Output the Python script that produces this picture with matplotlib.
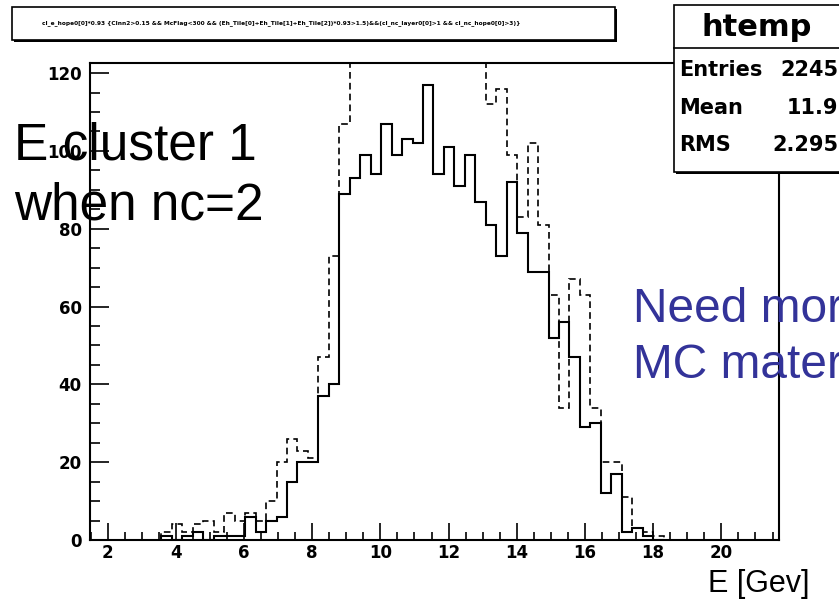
import matplotlib
matplotlib.use("Agg")

import numpy as np
from matplotlib import pyplot as plt
from matplotlib.patches import Rectangle
from matplotlib.ticker import MultipleLocator

W, H = 839, 600

# bin layout of htemp (E [GeV])
first_edge = 3.579
bin_width = 0.3068

# solid histogram (htemp, 2245 entries)
solid_counts = [1, 0, 1, 2, 0, 1, 1, 1, 6, 2, 5, 6,
                15, 20, 20, 37, 40,
                89, 93, 99, 94, 107, 99, 103, 102, 117,
                94, 101, 91, 99, 87, 81, 73, 92, 79, 69, 69,
                52, 56, 47, 29, 30, 12, 17, 2, 3, 1, 0]

# dashed histogram (MC), clipped at the top of the frame
dashed_counts = [2, 4, 2, 4, 5, 2, 7, 5, 7, 5, 10, 20,
                 26, 23, 21, 47, 73,
                 107, 135, 140, 138, 148, 142, 146, 141, 152,
                 138, 140, 132, 134, 126, 112, 116, 99, 83, 102, 81,
                 63, 34, 67, 63, 34, 20, 20, 11, 3, 2, 1]

x_ticks = [2, 4, 6, 8, 10, 12, 14, 16, 18, 20]
y_ticks = [0, 20, 40, 60, 80, 100, 120]

stat_names = ["Entries", "Mean", "RMS"]
stat_values = ["2245", "11.9", "2.295"]

title_text = ("cl_e_hope0[0]*0.93 {Clnn2>0.15 && McFlag<300 && "
              "(Eh_Tile[0]+Eh_Tile[1]+Eh_Tile[2])*0.93>1.5)&&"
              "(cl_nc_layer0[0]>1 && cl_nc_hope0[0]>3)}")

ROOT_FONT = "DejaVu Sans"
SLIDE_FONT = "Liberation Sans"


def fx(px):
    return px / W


def fy(py):
    return 1 - py / H


fig = plt.figure(figsize=(W / 100, H / 100), dpi=100)
ax = fig.add_axes([fx(90), fy(540), fx(779) - fx(90), fy(63) - fy(540)])

edges = first_edge + bin_width * np.arange(len(solid_counts) + 1)
ax.stairs(dashed_counts, edges, baseline=0, color="black", lw=1.2,
          linestyle=(0, (4, 2.5)), zorder=3)
ax.stairs(solid_counts, edges, baseline=0, color="black", lw=1.5, zorder=2)

ax.set_xlim(1.484, 21.69)
ax.set_ylim(0, 122.6)

ax.set_xticks(x_ticks)
ax.set_yticks(y_ticks)
ax.xaxis.set_minor_locator(MultipleLocator(0.5))
ax.yaxis.set_minor_locator(MultipleLocator(5))
ax.tick_params(axis="x", which="major", direction="in", length=12, width=1.2,
               pad=3)
ax.tick_params(axis="x", which="minor", direction="in", length=6, width=1.2)
ax.tick_params(axis="y", which="major", direction="in", length=14, width=1.2,
               pad=6)
ax.tick_params(axis="y", which="minor", direction="in", length=7, width=1.2)
for label in ax.get_xticklabels() + ax.get_yticklabels():
    label.set_fontfamily(ROOT_FONT)
    label.set_fontweight("bold")
    label.set_fontsize(12)
for spine in ax.spines.values():
    spine.set_linewidth(1.5)

# title box with shadow
fig.add_artist(Rectangle((fx(14), fy(42)), fx(617) - fx(14), fy(9) - fy(42),
                         transform=fig.transFigure, facecolor="black",
                         edgecolor="black", lw=0, zorder=4))
fig.add_artist(Rectangle((fx(12), fy(40)), fx(615) - fx(12), fy(7) - fy(40),
                         transform=fig.transFigure, facecolor="white",
                         edgecolor="black", lw=1.2, zorder=5))
fig.text(fx(281), fy(23.5), title_text, ha="center", va="center",
         fontsize=4.2, fontfamily=ROOT_FONT, fontweight="bold", zorder=6)

# stats box
fig.add_artist(Rectangle((fx(676), fy(174)), fx(860) - fx(676), fy(7) - fy(174),
                         transform=fig.transFigure, facecolor="black",
                         edgecolor="black", lw=0, zorder=4))
fig.add_artist(Rectangle((fx(674), fy(172)), fx(860) - fx(674), fy(5) - fy(172),
                         transform=fig.transFigure, facecolor="white",
                         edgecolor="black", lw=1.2, zorder=5))
fig.add_artist(plt.Line2D([fx(674), fx(860)], [fy(48), fy(48)],
                          transform=fig.transFigure, color="black", lw=1.2,
                          zorder=6))
fig.text(fx(757), fy(27), "htemp", ha="center", va="center", fontsize=22,
         fontfamily=ROOT_FONT, fontweight="bold", zorder=6)
for i, (name, value) in enumerate(zip(stat_names, stat_values)):
    y = 70 + i * 37.5
    fig.text(fx(679), fy(y), name, ha="left", va="center", fontsize=15,
             fontfamily=ROOT_FONT, fontweight="bold", zorder=6)
    fig.text(fx(838), fy(y), value, ha="right", va="center", fontsize=15,
             fontfamily=ROOT_FONT, fontweight="bold", zorder=6)

# slide annotations
fig.text(fx(14), fy(160), "E cluster 1", ha="left", va="baseline",
         fontsize=37, fontfamily=SLIDE_FONT, color="black", zorder=7)
fig.text(fx(14), fy(220), "when nc=2", ha="left", va="baseline",
         fontsize=37, fontfamily=SLIDE_FONT, color="black", zorder=7)
fig.text(fx(633), fy(322), "Need more", ha="left", va="baseline",
         fontsize=34.5, fontfamily=SLIDE_FONT, color="#333399", zorder=7)
fig.text(fx(633), fy(378), "MC material", ha="left", va="baseline",
         fontsize=34.5, fontfamily=SLIDE_FONT, color="#333399", zorder=7)
fig.text(fx(708), fy(592), "E [Gev]", ha="left", va="baseline",
         fontsize=22, fontfamily=SLIDE_FONT, color="black", zorder=7)

fig.savefig("out.png", dpi=100, facecolor="white")
plt.close("all")
